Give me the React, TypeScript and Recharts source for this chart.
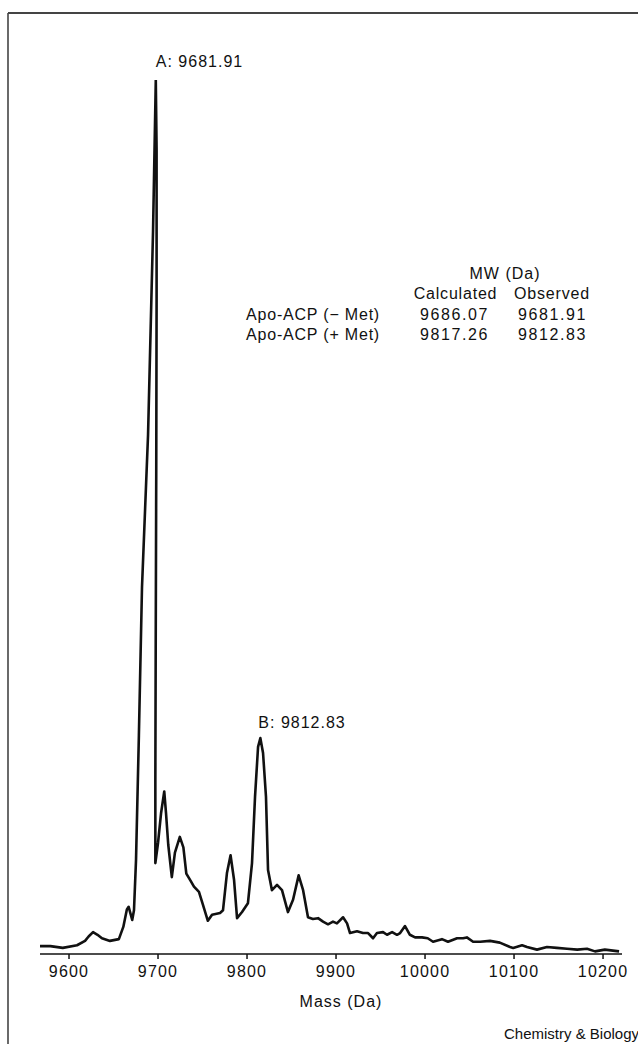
import React from 'react';
import { LineChart, Line, XAxis, YAxis, ReferenceDot } from 'recharts';

// Mass (Da) sample positions of the spectrum trace
const massValues: number[] = [
  9567, 9579, 9593, 9609, 9618, 9622, 9627, 9632, 9637, 9646, 9656, 9661, 9665, 9667, 9671, 9673,
  9675.3, 9678.5, 9682, 9688.8, 9694.4, 9697.5, 9698.4, 9698.4, 9698.0, 9697.4, 9697.0, 9697.0,
  9700, 9703.4, 9707, 9709, 9711.5, 9715.5, 9719, 9724.5, 9728.5, 9731.8, 9737, 9740.4, 9746,
  9750.6, 9756, 9760.7, 9769.7, 9773, 9777.5, 9781.5, 9785.4, 9788.8, 9794.4, 9801, 9805.6, 9809,
  9812.4, 9815, 9818, 9821.3, 9823.6, 9828, 9833.7, 9839.3, 9846, 9851.7, 9858, 9863, 9868.5, 9874,
  9879.8, 9885.4, 9891, 9896.6, 9901, 9907.9, 9912.4, 9915.7, 9923.6, 9930.3, 9936, 9941.6, 9946,
  9952.8, 9957.3, 9963, 9968.5, 9972, 9977.5, 9983, 9988.8, 9996.6, 10003, 10009, 10019, 10025.8,
  10036, 10042.7, 10047, 10054, 10062, 10073, 10084, 10095.5, 10099, 10109, 10114.6, 10125.8, 10137,
  10148, 10159.5, 10171, 10182, 10191, 10202, 10218,
];

// Relative intensity (%) at each mass position
const intensityValues: number[] = [
  0.9, 0.9, 0.7, 1.0, 1.5, 2.0, 2.5, 2.2, 1.8, 1.5, 1.7, 3.1, 5.1, 5.4, 3.9, 5.0,
  10.8, 25, 42, 59.4, 82.7, 100, 92, 75, 55, 35, 20, 10.4,
  12.7, 16.1, 18.6, 16.1, 12.5, 8.8, 11.6, 13.4, 12.2, 9.2, 8.3, 7.7, 7.1,
  5.6, 3.8, 4.5, 4.7, 5.0, 9.3, 11.3, 8.5, 4.1, 4.8, 5.8, 10.4, 18,
  23.7, 24.7, 23, 18, 9.6, 7.3, 7.9, 7.3, 4.8, 6.2, 9.0, 7.3, 4.2, 4.0,
  4.1, 3.7, 3.4, 3.7, 3.5, 4.2, 3.5, 2.4, 2.6, 2.4, 2.4, 1.8, 2.4,
  2.5, 2.2, 2.5, 2.2, 2.4, 3.2, 2.2, 1.9, 1.9, 1.8, 1.4, 1.7, 1.4,
  1.8, 1.8, 1.9, 1.4, 1.4, 1.5, 1.3, 0.8, 0.7, 1.0, 0.8, 0.5, 0.8,
  0.7, 0.6, 0.5, 0.6, 0.3, 0.5, 0.3,
];

const xTicks: number[] = [9600, 9700, 9800, 9900, 10000, 10100, 10200];
const xDomain: number[] = [9567.4, 10221.3];

const peakLabels = [
  { mass: 9697.5, intensity: 100, text: 'A: 9681.91', dx: 0, dy: -13 },
  { mass: 9815, intensity: 24.7, text: 'B: 9812.83', dx: -2, dy: -10 },
];

const tableTitle = 'MW (Da)';
const tableColumns: string[] = ['Calculated', 'Observed'];
const tableRows: string[] = ['Apo-ACP (\u2212 Met)', 'Apo-ACP (+ Met)'];
const calculatedMW: string[] = ['9686.07', '9817.26'];
const observedMW: string[] = ['9681.91', '9812.83'];

const xAxisTitle = 'Mass (Da)';
const credit = 'Chemistry & Biology';

const data = massValues.map((m, i) => ({ mass: m, intensity: intensityValues[i] }));

const FONT = '"Liberation Sans", Arial, Helvetica, sans-serif';
const INK = '#111';

const textStyle: React.CSSProperties = { fontFamily: FONT, fontSize: 16, fill: INK };

export default function App() {
  return (
    <div style={{ position: 'absolute', left: 0, top: 0, width: 638, height: 1044, background: '#fff', overflow: 'hidden' }}>
      <LineChart
        width={638}
        height={1044}
        data={data}
        margin={{ top: 80, right: 16, left: 40, bottom: 30 }}
      >
        <XAxis
          dataKey="mass"
          type="number"
          domain={xDomain}
          allowDataOverflow
          ticks={xTicks}
          interval={0}
          height={60}
          tickSize={5}
          tickMargin={7}
          axisLine={{ stroke: INK, strokeWidth: 1.6 }}
          tickLine={{ stroke: INK, strokeWidth: 1.5 }}
          tick={{ fontFamily: FONT, fontSize: 16, fill: INK, letterSpacing: 1.2 }}
        />
        <YAxis hide type="number" domain={[0, 100]} allowDataOverflow />
        <Line
          type="linear"
          dataKey="intensity"
          stroke={INK}
          strokeWidth={2.6}
          dot={false}
          activeDot={false}
          isAnimationActive={false}
          strokeLinejoin="round"
        />
        {peakLabels.map((p) => (
          <ReferenceDot
            key={p.text}
            x={p.mass}
            y={p.intensity}
            r={0}
            ifOverflow="visible"
            shape={(props: any) => (
              <text
                x={props.cx + p.dx}
                y={props.cy + p.dy}
                textAnchor="start"
                style={{ ...textStyle, letterSpacing: 1 }}
              >
                {p.text}
              </text>
            )}
          />
        ))}
      </LineChart>

      <svg
        width={638}
        height={1044}
        style={{ position: 'absolute', left: 0, top: 0, pointerEvents: 'none' }}
      >
        {/* frame */}
        <line x1={8} y1={13} x2={638} y2={13} stroke="#444" strokeWidth={1.8} />
        <line x1={8} y1={13} x2={8} y2={1044} stroke="#444" strokeWidth={1.6} />

        {/* table */}
        <text x={505} y={279} textAnchor="middle" style={{ ...textStyle, letterSpacing: 1 }}>{tableTitle}</text>
        <text x={455.5} y={299} textAnchor="middle" style={{ ...textStyle, letterSpacing: 0.8 }}>{tableColumns[0]}</text>
        <text x={552} y={299} textAnchor="middle" style={{ ...textStyle, letterSpacing: 0.8 }}>{tableColumns[1]}</text>
        {tableRows.map((r, i) => (
          <g key={r}>
            <text x={380} y={319.5 + i * 20} textAnchor="end" style={{ ...textStyle, letterSpacing: 0.8 }}>{r}</text>
            <text x={454.5} y={319.5 + i * 20} textAnchor="middle" style={{ ...textStyle, letterSpacing: 1.6 }}>{calculatedMW[i]}</text>
            <text x={552.5} y={319.5 + i * 20} textAnchor="middle" style={{ ...textStyle, letterSpacing: 1.6 }}>{observedMW[i]}</text>
          </g>
        ))}

        {/* axis title */}
        <text x={341} y={1006.5} textAnchor="middle" style={{ ...textStyle, letterSpacing: 1 }}>{xAxisTitle}</text>

        {/* credit */}
        <text x={504} y={1038.5} textAnchor="start" style={{ ...textStyle, fontSize: 15 }}>{credit}</text>
      </svg>
    </div>
  );
}
